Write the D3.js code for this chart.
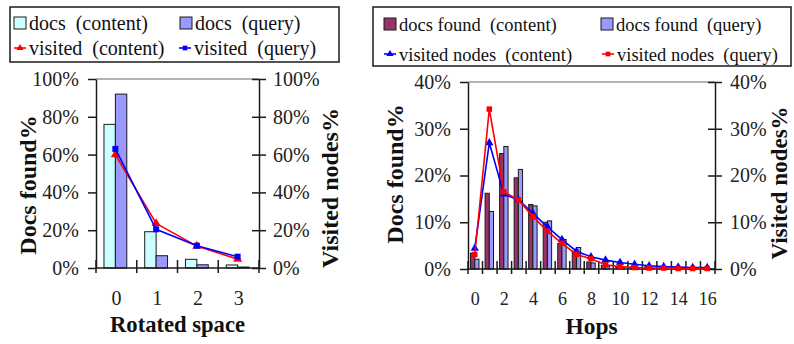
<!DOCTYPE html>
<html>
<head>
<meta charset="utf-8">
<script src="https://cdn.jsdelivr.net/npm/d3@7"></script>
<style>
  body { margin: 0; background: #fff; }
</style>
</head>
<body>
<div id="b1"></div>
<script>
const width = 794;
const height = 344;
const serif = "'Liberation Serif', Tinos, 'Nimbus Roman', 'Nimbus Roman No9 L', FreeSerif, 'Noto Serif', 'DejaVu Serif', 'Times New Roman', Times, serif";

// left panel: rotated space (values in %)
const spaceCats = ["0", "1", "2", "3"];
const spaceDocsContent = [76, 19.2, 4.6, 1.6];
const spaceDocsQuery = [92, 6.5, 1.7, 0.5];
const spaceVisitedContent = [60, 23.6, 11.6, 4.7];
const spaceVisitedQuery = [63, 20.5, 11.8, 6];
const spaceYTicks = [0, 20, 40, 60, 80, 100];

// right panel: hops (values in %)
const hopCats = ["0", "1", "2", "3", "4", "5", "6", "7", "8", "9", "10", "11", "12", "13", "14", "15", "16"];
const hopTickLabels = ["0", "2", "4", "6", "8", "10", "12", "14", "16"];
const hopDocsContent = [3.4, 16.2, 24.7, 19.5, 13.8, 10, 5.5, 3.8, 1.5, 0.8, 0.4, 0.3, 0.6, 0.2, 0.1, 0.1, 0.1];
const hopDocsQuery = [2.1, 12.3, 26.2, 21.3, 13.5, 10.3, 6.3, 4.6, 1.3, 0.6, 0.3, 0.2, 0.2, 0.1, 0.1, 0.1, 0.1];
const hopVisitedContent = [4.4, 27, 16, 14.8, 11.9, 9, 6.3, 3.8, 2.6, 1.9, 1.4, 1, 0.7, 0.5, 0.4, 0.3, 0.3];
const hopVisitedQuery = [3.1, 34.2, 16.5, 14.8, 11.2, 8.1, 5.5, 3.1, 2.2, 0.9, 0.5, 0.3, 0.2, 0.2, 0.1, 0.1, 0.1];
const hopYTicks = [0, 10, 20, 30, 40];

const svg = d3.create("svg")
    .attr("width", width)
    .attr("height", height)
    .attr("viewBox", [0, 0, width, height])
    .attr("font-family", serif)
    .style("display", "block")
;

const ink = "#1a1a1a";

function panel(cfg) {
    const x = d3.scaleBand()
        .domain(cfg.cats)
        .range([cfg.left, cfg.right])
    ;
    const y = d3.scaleLinear()
        .domain([0, cfg.yMax])
        .range([cfg.bottom, cfg.top])
    ;
    const g = svg.append("g");
    const bw = x.bandwidth();
    const barW = bw * cfg.barFrac;

    // grey line at the top value
    g.append("line")
        .attr("x1", cfg.left).attr("x2", cfg.right)
        .attr("y1", y(cfg.yMax)).attr("y2", y(cfg.yMax))
        .attr("stroke", "#9a9a9a")
        .attr("stroke-width", 1.5)
    ;

    // bars, two per category
    cfg.bars.forEach((s, i) => {
        g.append("g")
            .selectAll("rect")
            .data(s.values)
            .join("rect")
                .attr("x", (d, k) => x(cfg.cats[k]) + bw / 2 - barW + i * barW + cfg.shift)
                .attr("y", d => y(d))
                .attr("width", barW)
                .attr("height", d => y(0) - y(d))
                .attr("fill", s.color)
                .attr("stroke", ink)
                .attr("stroke-width", 1)
        ;
    });

    // left axis
    const ax = g.append("g")
        .attr("transform", `translate(${cfg.left},0)`)
        .call(d3.axisLeft(y).tickValues(cfg.yTicks).tickSize(8).tickSizeOuter(0).tickPadding(9).tickFormat(d => d + "%"))
    ;
    // right axis, ticks cross the line
    const ax2 = g.append("g")
        .attr("transform", `translate(${cfg.right},0)`)
        .call(d3.axisRight(y).tickValues(cfg.yTicks).tickSize(7).tickSizeOuter(0).tickPadding(cfg.rightPad).tickFormat(d => d + "%"))
    ;
    ax2.selectAll(".tick line").attr("x1", -7);
    [ax, ax2].forEach(a => {
        a.attr("font-family", serif).attr("font-size", 20);
        a.select(".domain").attr("stroke", ink).attr("stroke-width", 1.5);
        a.selectAll(".tick line").attr("stroke", ink).attr("stroke-width", 1.5);
        a.selectAll("text").attr("fill", "#222");
    });

    // x axis line and ticks at band edges
    g.append("line")
        .attr("x1", cfg.left).attr("x2", cfg.right)
        .attr("y1", y(0)).attr("y2", y(0))
        .attr("stroke", ink)
        .attr("stroke-width", 1.5)
    ;
    const edges = cfg.cats.map(c => x(c)).concat([cfg.right]);
    g.append("g")
        .selectAll("line")
        .data(edges)
        .join("line")
            .attr("x1", d => d).attr("x2", d => d)
            .attr("y1", y(0) - 8).attr("y2", y(0) + 5)
            .attr("stroke", ink)
            .attr("stroke-width", 1.5)
    ;
    g.append("g")
        .selectAll("text")
        .data(cfg.xLabels)
        .join("text")
            .attr("x", d => x(d) + bw / 2)
            .attr("y", 305)
            .attr("text-anchor", "middle")
            .attr("font-size", cfg.xLabelSize)
            .attr("fill", "#222")
            .text(d => d)
    ;

    // lines with markers
    cfg.lines.forEach(s => {
        const pts = s.values.map((v, k) => [x(cfg.cats[k]) + bw / 2 + cfg.shift, y(v)]);
        g.append("path")
            .attr("d", d3.line()(pts))
            .attr("fill", "none")
            .attr("stroke", s.color)
            .attr("stroke-width", 1.6)
        ;
        g.append("g")
            .selectAll("path")
            .data(pts)
            .join("path")
                .attr("transform", d => `translate(${d[0]},${d[1]})`)
                .attr("d", d3.symbol(s.symbol, cfg.markSize))
                .attr("fill", s.color)
        ;
    });

    // axis titles
    g.append("text")
        .attr("x", (cfg.left + cfg.right) / 2)
        .attr("y", cfg.xTitleY)
        .attr("text-anchor", "middle")
        .attr("font-weight", "bold")
        .attr("font-size", 24)
        .attr("textLength", cfg.xTitleLen)
        .attr("lengthAdjust", "spacingAndGlyphs")
        .attr("fill", "#111")
        .text(cfg.xTitle)
    ;
    cfg.yTitles.forEach(t => {
        g.append("text")
            .attr("transform", `translate(${t.x},${t.y}) rotate(-90)`)
            .attr("text-anchor", "middle")
            .attr("font-weight", "bold")
            .attr("font-size", t.size)
            .attr("fill", "#111")
            .text(t.text)
        ;
    });

    // legend
    const lg = svg.append("g");
    lg.append("rect")
        .attr("x", cfg.legend.x).attr("y", cfg.legend.y)
        .attr("width", cfg.legend.w).attr("height", cfg.legend.h)
        .attr("fill", "#fff")
        .attr("stroke", ink)
        .attr("stroke-width", 1.5)
    ;
    cfg.legend.items.forEach(it => {
        if (it.kind === "bar") {
            lg.append("rect")
                .attr("x", it.x).attr("y", it.y - 13)
                .attr("width", 12).attr("height", 12)
                .attr("fill", it.color)
                .attr("stroke", ink)
            ;
        } else {
            lg.append("line")
                .attr("x1", it.x).attr("x2", it.x + 12)
                .attr("y1", it.y - 7).attr("y2", it.y - 7)
                .attr("stroke", it.color)
                .attr("stroke-width", 1.6)
            ;
            lg.append("path")
                .attr("transform", `translate(${it.x + 6},${it.y - 7})`)
                .attr("d", d3.symbol(it.symbol, 22))
                .attr("fill", it.color)
            ;
        }
        lg.append("text")
            .attr("x", it.x + 15)
            .attr("y", it.y)
            .attr("font-size", cfg.legend.fontSize)
            .attr("fill", "#111")
            .style("white-space", "pre")
            .text(it.label)
        ;
    });
}

panel({
    cats: spaceCats,
    xLabels: spaceCats,
    xLabelSize: 20,
    left: 96, right: 259, top: 79, bottom: 268,
    yMax: 100, yTicks: spaceYTicks,
    barFrac: 0.28, shift: -1, rightPad: 7, markSize: 36,
    bars: [
        {values: spaceDocsContent, color: "#ccffff"},
        {values: spaceDocsQuery, color: "#9999ff"}
    ],
    lines: [
        {values: spaceVisitedContent, color: "#ff0000", symbol: d3.symbolTriangle},
        {values: spaceVisitedQuery, color: "#0000ff", symbol: d3.symbolSquare}
    ],
    xTitle: "Rotated space", xTitleY: 332, xTitleLen: 135,
    yTitles: [
        {text: "Docs found%", x: 36, y: 185, size: 24},
        {text: "Visited nodes%", x: 338, y: 188, size: 24}
    ],
    legend: {
        x: 10, y: 7, w: 329, h: 55, fontSize: 20,
        items: [
            {kind: "bar", x: 14, y: 30, color: "#ccffff", label: "docs  (content)"},
            {kind: "bar", x: 180, y: 30, color: "#9999ff", label: "docs  (query)"},
            {kind: "line", x: 14, y: 55, color: "#ff0000", symbol: d3.symbolTriangle, label: "visited  (content)"},
            {kind: "line", x: 179, y: 55, color: "#0000ff", symbol: d3.symbolSquare, label: "visited  (query)"}
        ]
    }
});

panel({
    cats: hopCats,
    xLabels: hopTickLabels,
    xLabelSize: 18,
    left: 468, right: 715, top: 82, bottom: 269,
    yMax: 40, yTicks: hopYTicks,
    barFrac: 0.29, shift: -0.5, rightPad: 8, markSize: 30,
    bars: [
        {values: hopDocsContent, color: "#993366"},
        {values: hopDocsQuery, color: "#9999ff"}
    ],
    lines: [
        {values: hopVisitedContent, color: "#0000ff", symbol: d3.symbolTriangle},
        {values: hopVisitedQuery, color: "#ff0000", symbol: d3.symbolSquare}
    ],
    xTitle: "Hops", xTitleY: 334, xTitleLen: 52,
    yTitles: [
        {text: "Docs found%", x: 403, y: 174, size: 24},
        {text: "Visited nodes%", x: 787, y: 183, size: 23}
    ],
    legend: {
        x: 373, y: 7, w: 418, h: 59, fontSize: 18.5,
        items: [
            {kind: "bar", x: 384, y: 31, color: "#993366", label: "docs found  (content)"},
            {kind: "bar", x: 601, y: 31, color: "#9999ff", label: "docs found  (query)"},
            {kind: "line", x: 384, y: 61, color: "#0000ff", symbol: d3.symbolTriangle, label: "visited nodes  (content)"},
            {kind: "line", x: 602, y: 61, color: "#ff0000", symbol: d3.symbolSquare, label: "visited nodes  (query)"}
        ]
    }
});

document.getElementById("b1")
    .append(svg.node());
</script>
</body>
</html>
